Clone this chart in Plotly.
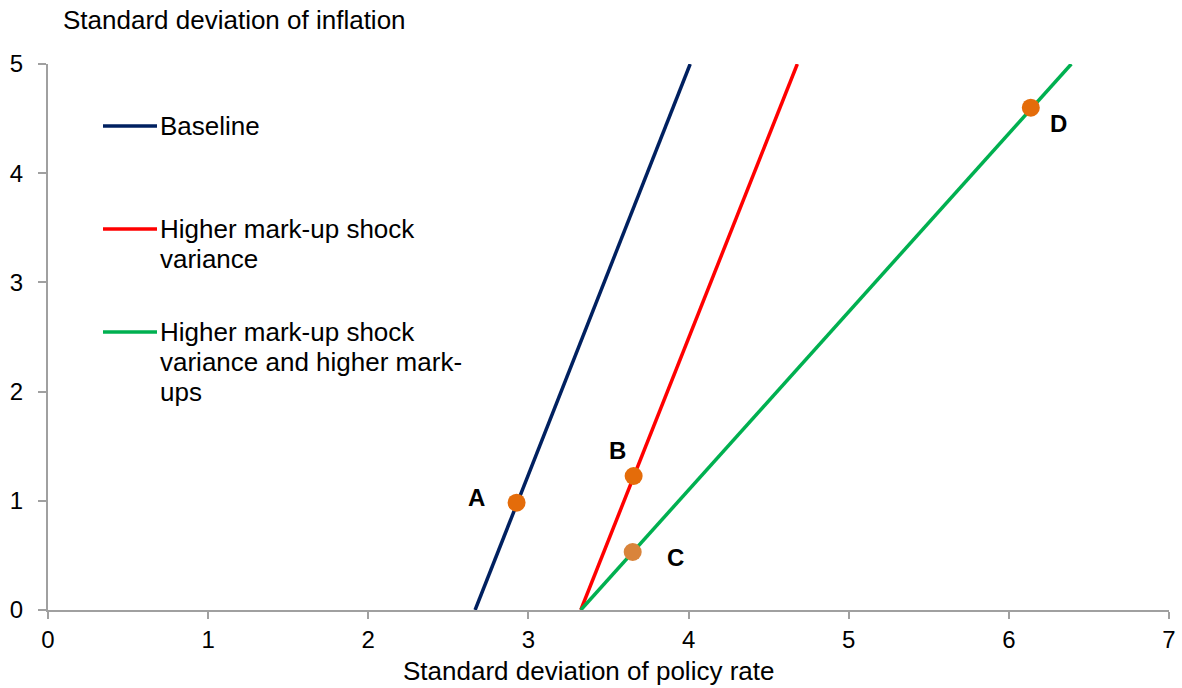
import plotly.graph_objects as go

# Data
series_names = ["Baseline", "Higher mark-up shock", "Higher mark-up shock"]
series_extra_lines = [[], ["variance"], ["variance and higher mark-", "ups"]]
baseline_x = [2.667, 4.01]
baseline_y = [0, 5]
markup_x = [3.327, 4.679]
markup_y = [0, 5]
markup_hi_x = [3.327, 6.39]
markup_hi_y = [0, 5]

point_labels = ["A", "B", "C", "D"]
point_x = [2.926, 3.657, 3.651, 6.137]
point_y = [0.983, 1.227, 0.531, 4.60]

x_ticks = [0, 1, 2, 3, 4, 5, 6, 7]
y_ticks = [0, 1, 2, 3, 4, 5]

colors = ["#002060", "#FF0000", "#00B050"]
point_colors = ["#E46C0A", "#E46C0A", "#D9843B", "#E46C0A"]
label_shifts = [(-40, 5), (-16, 26), (43, -5), (28, -16)]

FONT = "Liberation Sans, Arial, sans-serif"
TXT = 26
TICK = 24

fig = go.Figure()
for xs, ys, c in zip([baseline_x, markup_x, markup_hi_x],
                     [baseline_y, markup_y, markup_hi_y], colors):
    fig.add_trace(go.Scatter(x=xs, y=ys, mode="lines",
                             line=dict(color=c, width=3.5), showlegend=False,
                             hoverinfo="skip"))

fig.add_trace(go.Scatter(x=point_x, y=point_y, mode="markers",
                         marker=dict(color=point_colors, size=18, line=dict(width=0)),
                         showlegend=False, cliponaxis=False))

for lab, px, py, (dx, dy) in zip(point_labels, point_x, point_y, label_shifts):
    fig.add_annotation(x=px, y=py, text="<b>%s</b>" % lab, showarrow=False,
                       xshift=dx, yshift=dy,
                       font=dict(family=FONT, size=TICK, color="black"))

# Custom legend (paper coordinates)
W, H = 1182, 688
L, R, T, B = 48, 13, 64, 78
pw, ph = W - L - R, H - T - B

def px2paper(x, y):
    return (x - L) / pw, (H - B - y) / ph

legend_rows = [126, 229, 332]
LINE_GAP = 30
for name, extra, c, ly in zip(series_names, series_extra_lines, colors, legend_rows):
    x0, y0 = px2paper(103, ly)
    x1, _ = px2paper(157, ly)
    fig.add_shape(type="line", xref="paper", yref="paper", x0=x0, x1=x1,
                  y0=y0, y1=y0, line=dict(color=c, width=3.5))
    for i, txt in enumerate([name] + extra):
        tx, ty = px2paper(158, ly + i * LINE_GAP)
        fig.add_annotation(xref="paper", yref="paper", x=tx, y=ty, text=txt,
                           showarrow=False, xanchor="left", yanchor="middle",
                           align="left",
                           font=dict(family=FONT, size=TXT, color="black"))

tx, ty = px2paper(61, 20)
fig.add_annotation(xref="paper", yref="paper", x=tx, y=ty,
                   text="Standard deviation of inflation",
                   showarrow=False, xanchor="left", yanchor="middle",
                   font=dict(family=FONT, size=TXT, color="black"))

tx, ty = px2paper(588, 671)
fig.add_annotation(xref="paper", yref="paper", x=tx, y=ty,
                   text="Standard deviation of policy rate",
                   showarrow=False, xanchor="center", yanchor="middle",
                   font=dict(family=FONT, size=TXT, color="black"))

fig.update_layout(
    width=W, height=H,
    margin=dict(l=L, r=R, t=T, b=B, autoexpand=False),
    plot_bgcolor="white", paper_bgcolor="white",
    font=dict(family=FONT, size=TICK, color="black"),
    xaxis=dict(range=[0, 7], tickvals=x_ticks, showgrid=False, zeroline=False,
               showline=True, linecolor="#A0A0A0", linewidth=2,
               ticks="outside", ticklen=7, tickcolor="#A0A0A0", tickwidth=2,
               tickfont=dict(family=FONT, size=TICK), automargin=False),
    yaxis=dict(range=[0, 5], tickvals=y_ticks, showgrid=False, zeroline=False,
               showline=True, linecolor="#A0A0A0", linewidth=2,
               ticks="outside", ticklen=8, tickcolor="#A0A0A0", tickwidth=2,
               tickfont=dict(family=FONT, size=TICK), ticklabelstandoff=10,
               automargin=False),
)

fig.write_html("out.html", config={"displayModeBar": False},
               post_script="document.body.style.margin='0';document.body.style.overflow='hidden';")
